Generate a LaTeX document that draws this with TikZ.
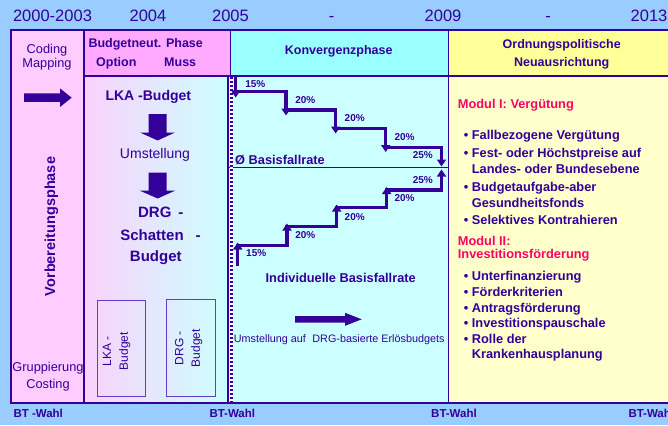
\documentclass[tikz,border=0pt]{standalone}
\usepackage{fontspec}
\setmainfont{Liberation Sans}
\usetikzlibrary{arrows.meta}
\definecolor{bgblue}{RGB}{153,204,255}
\definecolor{ink}{RGB}{51,0,153}
\definecolor{pinkA}{RGB}{255,204,255}
\definecolor{pinkL}{RGB}{250,210,252}
\definecolor{pinkH}{RGB}{255,170,255}
\definecolor{cyanH}{RGB}{153,255,255}
\definecolor{cyanB}{RGB}{204,255,255}
\definecolor{yelH}{RGB}{255,255,153}
\definecolor{yelB}{RGB}{255,255,204}
\definecolor{modred}{RGB}{255,0,102}
\definecolor{boxline}{RGB}{100,60,200}
\newcommand{\fsz}[2]{\fontsize{#1}{#2}\selectfont}
\tikzset{
  txt/.style={text=ink, inner sep=0pt},
  year/.style={txt, font=\fsz{16.5}{18}, anchor=base},
  hdr/.style={txt, font=\bfseries\fsz{12.5}{15}},
  reg/.style={txt, font=\fsz{12.8}{15}},
  pct/.style={txt, font=\bfseries\fsz{10}{12}, anchor=base},
  item/.style={txt, font=\bfseries\fsz{12.8}{15}, anchor=base west},
  modul/.style={item, text=modred},
  bt/.style={txt, font=\bfseries\fsz{11.5}{13}, anchor=base west},
  frame/.style={draw=ink, line width=1.5pt},
  stair/.style={draw=ink, line width=3.4pt},
  stairarr/.style={stair, -{Triangle[width=9pt,length=7pt]}},
  blockarrow/.style={fill=ink, draw=none},
  smallbox/.style={draw=boxline, line width=1pt},
}
\begin{document}
\begin{tikzpicture}[x=1pt,y=-1pt]
\useasboundingbox (0,0) rectangle (668,425);
\fill[bgblue] (0,0) rectangle (668,425);
% fills
\fill[pinkA] (11,30) rectangle (84,403);
\fill[pinkH] (84,30) rectangle (230.5,76);
\shade[left color=pinkL, right color=cyanB] (84,76) rectangle (228,403);
\fill[cyanH] (230.5,30) rectangle (448.5,76);
\fill[cyanB] (228,76) rectangle (448.5,403);
\fill[yelH] (448.5,30) rectangle (672,76);
\fill[yelB] (448.5,76) rectangle (672,403);
% frame lines
\draw[frame] (672,30) -- (11,30) -- (11,403) -- (672,403);
\draw[frame] (84,30) -- (84,403);
\draw[frame] (230.5,30) -- (230.5,76);
\draw[frame] (228,76) -- (228,403);
\draw[frame] (448.5,30) -- (448.5,403);
\draw[draw=ink, line width=2pt] (84,76) -- (672,76);
\draw[draw=ink, line width=1.3pt] (228,167.3) -- (448.5,167.3);
% dotted line
\draw[white, line width=3pt] (231.4,77) -- (231.4,402);
\draw[ink, line width=3pt, dash pattern=on 2.2pt off 1.8pt] (231.4,77) -- (231.4,402);
% years
\node[year] (y1) at (52.5,21.7) {2000-2003};
\node[year] (y2) at (148,21.7) {2004};
\node[year] (y3) at (230.5,21.7) {2005};
\node[year] (y4) at (331.5,21.7) {-};
\node[year] (y5) at (443,21.7) {2009};
\node[year] (y6) at (548,21.7) {-};
\node[year] (y7) at (649,21.7) {2013};
% column 1
\node[reg, anchor=base] (coding) at (47,53.3) {Coding};
\node[reg, anchor=base] (mapping) at (47,67.7) {Mapping};
\fill[blockarrow] (24,93.5) -- (60,93.5) -- (60,88.4) -- (71.7,97.7) -- (60,107) -- (60,102) -- (24,102) -- cycle;
\node[txt, font=\bfseries\fsz{14.5}{17}, rotate=90] (vorb) at (51.5,226.5) {Vorbereitungsphase};
\node[reg, anchor=base] (grupp) at (48,371.7) {Gruppierung};
\node[reg, anchor=base] (costing) at (48,388.3) {Costing};
% column 2 header
\node[hdr, anchor=base west] (budneut) at (88.3,47.7) {Budgetneut. Phase};
\node[hdr, anchor=base west] (option) at (96,66.7) {Option};
\node[hdr, anchor=base west] (muss) at (164,66.7) {Muss};
% column 2 body
\node[txt, font=\bfseries\fsz{14}{16}, anchor=base] (lka) at (148.3,101) {LKA -Budget};
\fill[blockarrow] (148.5,114) -- (166.7,114) -- (166.7,132.5) -- (175,132.5) -- (157.6,140.5) -- (140,132.5) -- (148.5,132.5) -- cycle;
\node[txt, font=\fsz{14}{16}, anchor=base] (umst) at (155,158.3) {Umstellung};
\fill[blockarrow] (148.5,172.7) -- (166.7,172.7) -- (166.7,190.7) -- (175,190.7) -- (157.6,198.5) -- (140,190.7) -- (148.5,190.7) -- cycle;
\node[txt, font=\bfseries\fsz{15}{17}, anchor=base] (drg1) at (160.8,217.3) {DRG\hspace{7pt}-};
\node[txt, font=\bfseries\fsz{15}{17}, anchor=base] (drg2) at (160.5,240) {Schatten\hspace{12pt}-};
\node[txt, font=\bfseries\fsz{15}{17}, anchor=base] (drg3) at (155.8,261.7) {Budget};
\draw[smallbox] (97.3,300.7) rectangle (145.3,396.7);
\draw[smallbox] (166,299.3) rectangle (215,396.7);
\node[txt, font=\fsz{12}{16.7}, rotate=90, align=center] (lkab) at (116.7,351) {LKA -\\Budget};
\node[txt, font=\fsz{12}{16.7}, rotate=90, align=center] (drgb) at (188.7,348) {DRG -\\Budget};
% column 3 header
\node[hdr, anchor=base] (konv) at (338.7,54.3) {Konvergenzphase};
% descending stairs
\draw[stairarr] (235.7,76) -- (235.7,97.5);
\draw[stair, line cap=rect] (235.7,91.7) -- (286,91.7);
\draw[stairarr] (286,91.7) -- (286,115.5);
\draw[stair, line cap=rect] (286,110) -- (335.7,110);
\draw[stairarr] (335.7,110) -- (335.7,133.5);
\draw[stair, line cap=rect] (335.7,128.3) -- (385.7,128.3);
\draw[stairarr] (385.7,128.3) -- (385.7,152);
\draw[stair, line cap=rect] (385.7,147.3) -- (441.5,147.3);
\draw[stairarr] (441.5,147.3) -- (441.5,166.5);
\node[pct] (d1) at (255.3,87.3) {15\%};
\node[pct] (d2) at (305.3,103.3) {20\%};
\node[pct] (d3) at (354.7,121.7) {20\%};
\node[pct] (d4) at (404.5,140.7) {20\%};
\node[pct] (d5) at (422.8,158.3) {25\%};
\node[txt, font=\bfseries\fsz{12.8}{15}, anchor=base west] (basis) at (235,164) {Ø Basisfallrate};
% ascending stairs
\draw[stairarr] (237.7,266) -- (237.7,242.5);
\draw[stair, line cap=rect] (237.7,245.7) -- (287,245.7);
\draw[stairarr] (287,245.7) -- (287,223.5);
\draw[stair, line cap=rect] (287,226.7) -- (336.7,226.7);
\draw[stairarr] (336.7,226.7) -- (336.7,204.5);
\draw[stair, line cap=rect] (336.7,207.7) -- (386.7,207.7);
\draw[stairarr] (386.7,207.7) -- (386.7,187);
\draw[stair, line cap=rect] (386.7,190) -- (441.5,190);
\draw[stairarr] (441.5,190) -- (441.5,169.5);
\node[pct] (a5) at (422.8,183.3) {25\%};
\node[pct] (a4) at (404.5,201.7) {20\%};
\node[pct] (a3) at (354.7,220) {20\%};
\node[pct] (a2) at (305.3,238.3) {20\%};
\node[pct] (a1) at (256.2,256.7) {15\%};
\node[txt, font=\bfseries\fsz{12.8}{15}, anchor=base] (indiv) at (340.7,282.3) {Individuelle Basisfallrate};
\fill[blockarrow] (295,316) -- (345,316) -- (345,312.8) -- (361.7,319.3) -- (345,325.8) -- (345,322.6) -- (295,322.6) -- cycle;
\node[txt, font=\fsz{10.8}{13}, anchor=base] (umstdrg) at (339.2,342.7) {Umstellung auf\hspace{0.6em}DRG-basierte Erlösbudgets};
% column 4
\node[hdr, anchor=base] (ordn) at (561.7,48.3) {Ordnungspolitische};
\node[hdr, anchor=base] (neua) at (561.7,66.7) {Neuausrichtung};
\newcommand{\bul}{\llap{\textbullet\hspace{3.5pt}}}
\node[modul] (m1) at (457.7,108.5) {Modul I: Vergütung};
\node[item] (i1) at (471.7,139.5) {\bul Fallbezogene Vergütung};
\node[item] (i2) at (471.7,157) {\bul Fest- oder Höchstpreise auf};
\node[item] (i2b) at (471.7,173.5) {Landes- oder Bundesebene};
\node[item] (i3) at (471.7,191) {\bul Budgetaufgabe-aber};
\node[item] (i3b) at (471.7,207) {Gesundheitsfonds};
\node[item] (i4) at (471.7,224) {\bul Selektives Kontrahieren};
\node[modul] (m2) at (457.7,245) {Modul II:};
\node[modul] (m2b) at (457.7,258.5) {Investitionsförderung};
\node[item] (j1) at (471.7,280.5) {\bul Unterfinanzierung};
\node[item] (j2) at (471.7,296) {\bul Förderkriterien};
\node[item] (j3) at (471.7,312) {\bul Antragsförderung};
\node[item] (j4) at (471.7,327) {\bul Investitionspauschale};
\node[item] (j5) at (471.7,343) {\bul Rolle der};
\node[item] (j5b) at (471.7,358.5) {Krankenhausplanung};
% bottom labels
\node[bt] (bt1) at (13.3,417.3) {BT -Wahl};
\node[bt] (bt2) at (209.3,417.3) {BT-Wahl};
\node[bt] (bt3) at (431,417.3) {BT-Wahl};
\node[bt] (bt4) at (628.3,417.3) {BT-Wahl};
\end{tikzpicture}
\end{document}
